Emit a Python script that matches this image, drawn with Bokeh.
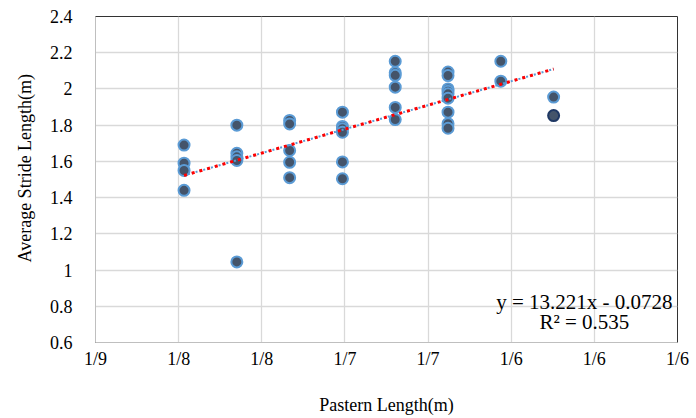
import numpy as np
from bokeh.plotting import figure
from bokeh.models import Range1d, FixedTicker, Label, Title, ColumnDataSource
from bokeh.embed import file_html
from bokeh.resources import INLINE

# ---- data -------------------------------------------------------------
# pastern length (m) of each horse and its average stride length (m)
pastern = [0.12065] * 4 + [0.127] * 5 + [0.13335] * 5 + [0.1397] * 6 + \
          [0.14605] * 6 + [0.1524] * 9 + [0.15875] * 2 + [0.1651]
stride = [1.69, 1.59, 1.55, 1.44,
          1.80, 1.645, 1.625, 1.605, 1.045,
          1.826, 1.807, 1.66, 1.595, 1.51,
          1.872, 1.793, 1.78, 1.761, 1.597, 1.504,
          2.153, 2.09, 2.075, 2.01, 1.898, 1.831,
          2.093, 2.074, 2.0, 1.987, 1.973, 1.949, 1.872, 1.808, 1.783,
          2.153, 2.043,
          1.955]
# highlighted point (separate series)
pastern_hl = [0.1651]
stride_hl = [1.853]

slope = 13.221
intercept = -0.0728
r2 = 0.535

x_ticks = [0.11, 0.12, 0.13, 0.14, 0.15, 0.16, 0.17, 0.18]
x_tick_labels = ["1/9", "1/8", "1/8", "1/7", "1/7", "1/6", "1/6", "1/6"]
y_ticks = [0.6, 0.8, 1.0, 1.2, 1.4, 1.6, 1.8, 2.0, 2.2, 2.4]
y_tick_labels = ["0.6", "0.8", "1", "1.2", "1.4", "1.6", "1.8", "2", "2.2", "2.4"]

x_title = "Pastern Length(m)"
y_title = "Average Stride Length(m)"

FONT = "Liberation Serif"

p = figure(width=696, height=418, output_backend="svg", toolbar_location=None,
           x_range=Range1d(0.11, 0.18), y_range=Range1d(0.6, 2.4),
           min_border_left=95, min_border_right=19, min_border_top=16,
           min_border_bottom=76)
p.outline_line_color = "#333333"
p.background_fill_color = "white"

# grids
for g in (p.xgrid, p.ygrid):
    g.grid_line_color = "#d9d9d9"
    g.grid_line_width = 1.3

# axes
p.xaxis.ticker = FixedTicker(ticks=x_ticks)
p.xaxis.major_label_overrides = {t: l for t, l in zip(x_ticks, x_tick_labels)}
p.yaxis.ticker = FixedTicker(ticks=y_ticks)
p.yaxis.major_label_overrides = {t: l for t, l in zip(y_ticks, y_tick_labels)}
for ax in (p.xaxis[0], p.yaxis[0]):
    ax.axis_line_color = "#bfbfbf"
    ax.major_tick_line_color = None
    ax.minor_tick_line_color = None
    ax.major_label_text_font = FONT
    ax.major_label_text_font_size = "18px"
    ax.major_label_text_color = "#000000"
p.xaxis.major_label_standoff = 0
p.yaxis.major_label_standoff = 17

# x title as axis label
xa = p.xaxis[0]
xa.axis_label = x_title
xa.axis_label_text_font = FONT
xa.axis_label_text_font_size = "18px"
xa.axis_label_text_font_style = "normal"
xa.axis_label_text_color = "#000000"
xa.axis_label_standoff = 23

# y title (Excel places it slightly above centre)
p.add_layout(Title(text=y_title, align="left", offset=80, standoff=24,
                   text_font=FONT, text_font_size="18px",
                   text_font_style="normal", text_color="#000000"), "left")

# points
src = ColumnDataSource(dict(x=pastern, y=stride))
p.scatter("x", "y", source=src, size=11, fill_color="#44546a",
          line_color="#5b9bd5", line_width=2)
p.scatter(pastern_hl, stride_hl, size=11, fill_color="#44546a",
          line_color="#1f3864", line_width=2)

# trend lines
all_x = pastern + pastern_hl
tx = np.array([min(all_x), max(all_x)])
ty = slope * tx + intercept
p.line(tx, ty, line_color="#5b9bd5", line_width=2, line_dash="2 2")
p.line(tx, ty, line_color="#ff0000", line_width=3, line_dash="3 5")

# equation
xl = 0.1688
p.add_layout(Label(x=xl, y=0.822, text=f"y = {slope}x - {abs(intercept)}",
                   text_align="center", text_baseline="middle",
                   text_font=FONT, text_font_size="21px", text_color="#000000"))
p.add_layout(Label(x=xl, y=0.712, text=f"R² = {r2}",
                   text_align="center", text_baseline="middle",
                   text_font=FONT, text_font_size="21px", text_color="#000000"))

open("out.html", "w").write(file_html(p, INLINE))
